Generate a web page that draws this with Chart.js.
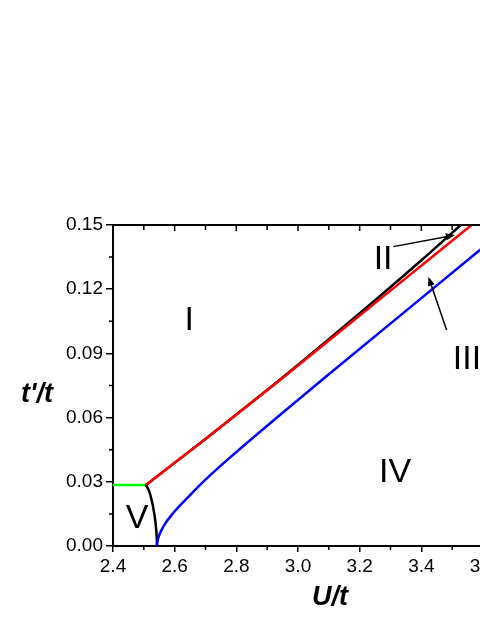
<!DOCTYPE html>
<html>
<head>
<meta charset="utf-8">
<script src="https://cdn.jsdelivr.net/npm/chart.js@4/dist/chart.umd.min.js"></script>
<style>
  html, body { margin: 0; padding: 0; background: #fff; overflow: hidden; }
  #wrap { width: 520px; height: 621px; }
</style>
</head>
<body>
<div id="wrap"><canvas id="phase" width="520" height="621"></canvas></div>
<script>
// Phase boundaries (U/t, t'/t)
const redU = [2.507, 2.704, 2.942, 3.25, 3.563];
const redT = [0.0285, 0.0505, 0.0776, 0.1135, 0.15];

const blackU = [2.507, 2.704, 2.942, 3.1, 3.25, 3.4, 3.528];
const blackT = [0.0285, 0.0505, 0.0778, 0.0966, 0.1148, 0.1335, 0.15];

const blueU = [2.5417, 2.5466, 2.563, 2.596, 2.65, 2.70, 2.78, 3.104, 3.59, 3.6];
const blueT = [0, 0.0036, 0.009, 0.0155, 0.0238, 0.031, 0.0414, 0.0807, 0.1383, 0.1395];

const vU = [2.507, 2.52, 2.534, 2.541, 2.543];
const vT = [0.0285, 0.0245, 0.015, 0.006, 0];

const greenU = [2.4, 2.507];
const greenT = [0.0285, 0.0285];

// Axes
const xMin = 2.4, xMax = 3.6, xStep = 0.2;
const yMin = 0, yMax = 0.15, yStep = 0.03;
const xMinorTicks = [2.5, 2.7, 2.9, 3.1, 3.3, 3.5];
const yMinorTicks = [0.015, 0.045, 0.075, 0.105, 0.135];

// Region labels and arrows (data coordinates)
const regionText = ['I', 'II', 'III', 'IV', 'V'];
const regionU = [2.647, 3.276, 3.548, 3.315, 2.478];
const regionT = [0.1051, 0.1336, 0.0869, 0.0345, 0.0128];

const arrowFromU = [3.309, 3.482];
const arrowFromT = [0.1399, 0.1009];
const arrowToU = [3.509, 3.423];
const arrowToT = [0.1453, 0.1258];

function pts(us, ts) {
  return us.map((u, i) => ({ x: u, y: ts[i] }));
}

function line(label, us, ts, color) {
  return {
    label: label,
    data: pts(us, ts),
    borderColor: color,
    backgroundColor: color,
    borderWidth: 2.5,
    pointRadius: 0,
    showLine: true,
    cubicInterpolationMode: 'monotone',
    fill: false
  };
}

const FONT = '"Liberation Sans", Arial, sans-serif';

// Draws top frame, minor/mirrored ticks, region labels, arrows and axis titles
const decorPlugin = {
  id: 'decor',
  afterDatasetsDraw(chart) {
    const ctx = chart.ctx;
    const xs = chart.scales.x, ys = chart.scales.y;
    const a = chart.chartArea;
    ctx.save();
    ctx.strokeStyle = '#000';
    ctx.lineWidth = 2;
    ctx.beginPath();
    ctx.moveTo(a.left, a.top);
    ctx.lineTo(a.right, a.top);
    ctx.stroke();

    ctx.lineWidth = 1.5;
    ctx.beginPath();
    // minor ticks, outward on bottom/left, inward on top
    xMinorTicks.forEach(v => {
      const px = xs.getPixelForValue(v);
      ctx.moveTo(px, a.bottom); ctx.lineTo(px, a.bottom + 4);
      ctx.moveTo(px, a.top); ctx.lineTo(px, a.top + 5);
    });
    yMinorTicks.forEach(v => {
      const py = ys.getPixelForValue(v);
      ctx.moveTo(a.left, py); ctx.lineTo(a.left - 4, py);
    });
    // mirrored major ticks on top
    for (let v = xMin; v <= xMax + 1e-9; v += xStep) {
      const px = xs.getPixelForValue(v);
      ctx.moveTo(px, a.top); ctx.lineTo(px, a.top + 6);
    }
    ctx.stroke();

    // arrows
    ctx.fillStyle = '#000';
    ctx.lineWidth = 1.5;
    arrowFromU.forEach((u, i) => {
      const x0 = xs.getPixelForValue(u), y0 = ys.getPixelForValue(arrowFromT[i]);
      const x1 = xs.getPixelForValue(arrowToU[i]), y1 = ys.getPixelForValue(arrowToT[i]);
      const ang = Math.atan2(y1 - y0, x1 - x0);
      const hl = 9, hw = 3.5;
      ctx.beginPath();
      ctx.moveTo(x0, y0);
      ctx.lineTo(x1 - hl * Math.cos(ang), y1 - hl * Math.sin(ang));
      ctx.stroke();
      ctx.beginPath();
      ctx.moveTo(x1, y1);
      ctx.lineTo(x1 - hl * Math.cos(ang) + hw * Math.sin(ang), y1 - hl * Math.sin(ang) - hw * Math.cos(ang));
      ctx.lineTo(x1 - hl * Math.cos(ang) - hw * Math.sin(ang), y1 - hl * Math.sin(ang) + hw * Math.cos(ang));
      ctx.closePath();
      ctx.fill();
    });

    // region labels
    ctx.font = '34px ' + FONT;
    ctx.textAlign = 'center';
    ctx.textBaseline = 'middle';
    regionText.forEach((t, i) => {
      ctx.fillText(t, xs.getPixelForValue(regionU[i]), ys.getPixelForValue(regionT[i]));
    });

    // axis titles
    ctx.font = 'italic bold 27px ' + FONT;
    ctx.textBaseline = 'alphabetic';
    ctx.fillText("t'/t", 37, 402);
    ctx.fillText('U/t', 330, 605);
    ctx.restore();
  }
};

new Chart(document.getElementById('phase'), {
  type: 'scatter',
  data: {
    datasets: [
      line('red', redU, redT, '#ff0000'),
      line('black', blackU, blackT, '#000000'),
      line('blue', blueU, blueT, '#0000ff'),
      line('V', vU, vT, '#000000'),
      line('green', greenU, greenT, '#00ff00')
    ]
  },
  options: {
    responsive: false,
    devicePixelRatio: 1,
    animation: false,
    layout: { padding: { left: 0, top: 225, right: 37, bottom: 0 } },
    plugins: { legend: { display: false }, tooltip: { enabled: false } },
    scales: {
      x: {
        type: 'linear',
        min: xMin, max: xMax,
        afterFit(scale) { scale.height = 75; },
        border: { display: true, color: '#000', width: 2 },
        grid: { display: true, drawOnChartArea: false, color: '#000', lineWidth: 1.5, tickLength: 6 },
        ticks: {
          stepSize: xStep,
          color: '#000',
          padding: 3,
          maxRotation: 0,
          font: { family: FONT, size: 19 },
          callback: v => Number(v).toFixed(1)
        }
      },
      y: {
        type: 'linear',
        min: yMin, max: yMax,
        afterFit(scale) { scale.width = 113; },
        border: { display: true, color: '#000', width: 2 },
        grid: { display: true, drawOnChartArea: false, color: '#000', lineWidth: 1.5, tickLength: 7 },
        ticks: {
          stepSize: yStep,
          color: '#000',
          padding: 3,
          font: { family: FONT, size: 19 },
          callback: v => Number(v).toFixed(2)
        }
      }
    }
  },
  plugins: [decorPlugin]
});
</script>
</body>
</html>
